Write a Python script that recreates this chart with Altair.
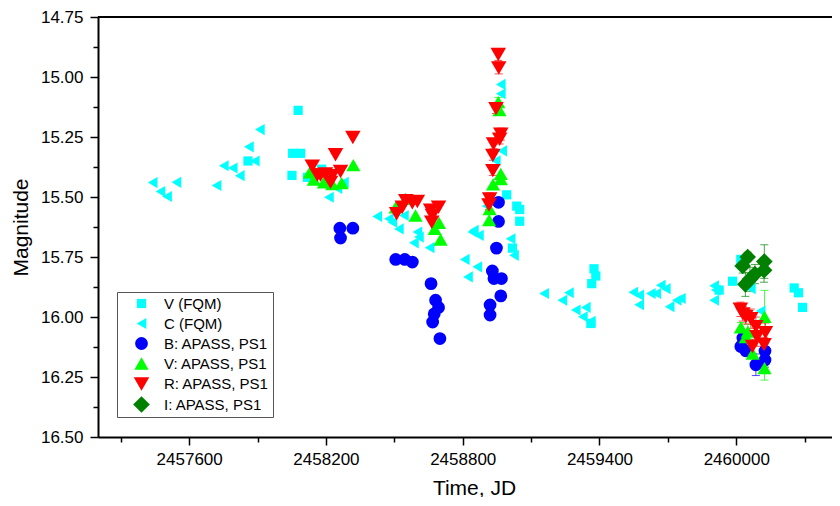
import altair as alt
import pandas as pd

series_names = ["V (FQM)", "C (FQM)", "B: APASS, PS1", "V: APASS, PS1", "R: APASS, PS1", "I: APASS, PS1"]
series_colors = ["#00ffff", "#00ffff", "#0000ff", "#00ff00", "#ff0000", "#008000"]
series_shapes = ["square", "triangle-left", "circle", "triangle-up", "triangle-down", "diamond"]
series_sizes = [85, 280, 95, 210, 210, 160]

# V (FQM)
vfqm_jd = [2457858, 2458078, 2458054, 2458089, 2458051, 2458119, 2458181, 2458993, 2459037, 2459050,
           2459050, 2459018, 2459376, 2459384, 2459366, 2459362, 2459925, 2459984, 2460020, 2460254,
           2460273, 2460291]
vfqm_mag = [15.35, 15.139, 15.318, 15.318, 15.41, 15.418, 15.384, 15.491, 15.538, 15.552,
            15.601, 15.713, 15.799, 15.829, 15.861, 16.027, 15.888, 15.851, 15.76, 15.879,
            15.899, 15.96]

# C (FQM)
cfqm_jd = [2457440, 2457474, 2457503, 2457544, 2457720, 2457752, 2457791, 2457822, 2457862, 2457888,
           2457910, 2458213, 2458279, 2458250, 2458305, 2458425, 2458476, 2458491, 2458520, 2458542,
           2458601, 2458608, 2458586, 2458655, 2458842, 2458849, 2458871, 2458809, 2458864, 2458823,
           2458967, 2458967, 2458973, 2458945, 2458905, 2459010, 2459025, 2459157, 2459266, 2459237,
           2459296, 2459340, 2459327, 2459362, 2459548, 2459574, 2459574, 2459625, 2459649, 2459669,
           2459691, 2459708, 2459739, 2459757, 2459903, 2459910, 2459903, 2460064, 2460107]
cfqm_mag = [15.44, 15.477, 15.498, 15.439, 15.452, 15.37, 15.379, 15.411, 15.291, 15.35,
            15.219, 15.501, 15.439, 15.464, 15.63, 15.581, 15.591, 15.605, 15.633, 15.577,
            15.646, 15.667, 15.691, 15.711, 15.646, 15.639, 15.66, 15.76, 15.791, 15.833,
            15.031, 15.07, 15.308, 15.349, 15.538, 15.674, 15.743, 15.902, 15.899, 15.93,
            15.971, 15.96, 15.999, 16.018, 15.897, 15.909, 15.949, 15.902, 15.902, 15.868,
            15.882, 15.957, 15.93, 15.923, 15.87, 15.888, 15.93, 15.882, 15.975]

# B: APASS, PS1
b_jd = [2458261, 2458264, 2458318, 2458506, 2458546, 2458579, 2458661, 2458681, 2458694, 2458675,
        2458668, 2458700, 2458957, 2458957, 2458948, 2458930, 2458937, 2458970, 2458967, 2458920,
        2458920, 2460029, 2460020, 2460042, 2460086, 2460126, 2460126]
b_mag = [15.63, 15.671, 15.63, 15.76, 15.76, 15.771, 15.861, 15.93, 15.96, 15.987,
         16.021, 16.09, 15.522, 15.602, 15.713, 15.808, 15.84, 15.84, 15.912, 15.95,
         15.992, 16.088, 16.123, 16.141, 16.199, 16.142, 16.179]
b_err = [0, 0, 0, 0, 0, 0, 0, 0, 0, 0,
         0, 0, 0, 0, 0, 0, 0, 0, 0, 0,
         0, 0.02, 0.02, 0.02, 0.045, 0.03, 0.03]

# V: APASS, PS1
v_jd = [2458320, 2458129, 2458147, 2458191, 2458269, 2458228, 2458550, 2458506, 2458593, 2458696,
        2458677, 2458703, 2458956, 2458961, 2458967, 2458967, 2458933, 2458918, 2458916, 2460020,
        2460051, 2460042, 2460072, 2460124, 2460124]
v_mag = [15.367, 15.397, 15.428, 15.439, 15.442, 15.446, 15.508, 15.543, 15.577, 15.608,
         15.633, 15.677, 15.105, 15.138, 15.404, 15.425, 15.447, 15.55, 15.596, 16.043,
         16.061, 16.084, 16.152, 15.999, 16.213]
v_err = [0, 0, 0, 0, 0, 0, 0, 0, 0, 0,
         0, 0, 0.02, 0.02, 0, 0, 0, 0, 0, 0.02,
         0.03, 0.03, 0.04, 0.11, 0.05]

# R: APASS, PS1
r_jd = [2458318, 2458242, 2458140, 2458162, 2458198, 2458228, 2458220, 2458264, 2458176, 2458510,
        2458535, 2458550, 2458579, 2458601, 2458659, 2458694, 2458664, 2458667, 2458956, 2458958,
        2458946, 2458967, 2458962, 2458935, 2458932, 2458932, 2458918, 2458915, 2460018, 2460029,
        2460042, 2460064, 2460086, 2460128, 2460071, 2460122, 2460091]
r_mag = [15.252, 15.324, 15.372, 15.408, 15.404, 15.411, 15.439, 15.394, 15.408, 15.57,
         15.543, 15.515, 15.524, 15.519, 15.555, 15.543, 15.605, 15.577, 14.906, 14.962,
         15.132, 15.238, 15.259, 15.279, 15.327, 15.39, 15.508, 15.533, 15.968, 15.987,
         15.999, 16.007, 16.04, 16.065, 16.123, 16.115, 16.082]
r_err = [0, 0, 0, 0, 0, 0, 0, 0, 0, 0,
         0, 0, 0, 0, 0, 0, 0, 0, 0.025, 0.025,
         0.02, 0.025, 0.02, 0.02, 0.02, 0.02, 0.025, 0.02, 0.03, 0.03,
         0.03, 0.04, 0.04, 0.04, 0.03, 0.03, 0.04]

# I: APASS, PS1
i_jd = [2460050, 2460028, 2460123, 2460122, 2460082, 2460060, 2460040]
i_mag = [15.75, 15.787, 15.769, 15.805, 15.821, 15.843, 15.864]
i_err = [0.02, 0.03, 0.07, 0.05, 0.04, 0.05, 0.05]

x_tick_values = [2457300, 2457600, 2457900, 2458200, 2458500, 2458800, 2459100, 2459400,
                 2459700, 2460000, 2460300]
y_tick_values = [14.75, 14.875, 15.0, 15.125, 15.25, 15.375, 15.5, 15.625, 15.75, 15.875,
                 16.0, 16.125, 16.25, 16.375, 16.5]

all_series = [
    (series_names[0], vfqm_jd, vfqm_mag, [0] * len(vfqm_jd)),
    (series_names[1], cfqm_jd, cfqm_mag, [0] * len(cfqm_jd)),
    (series_names[2], b_jd, b_mag, b_err),
    (series_names[3], v_jd, v_mag, v_err),
    (series_names[4], r_jd, r_mag, r_err),
    (series_names[5], i_jd, i_mag, i_err),
]
rows = []
for k, (name, jds, mags, errs) in enumerate(all_series):
    for j, m, e in zip(jds, mags, errs):
        rows.append({"series": name, "order": k, "jd": j, "mag": m, "err": e,
                     "lo": m - e, "hi": m + e})
df = pd.DataFrame(rows)

FONT = "Liberation Sans"
W, H = 734, 420

x_scale = alt.Scale(domain=[2457200, 2460420], nice=False, zero=False)
y_scale = alt.Scale(domain=[14.75, 16.5], reverse=True, nice=False, zero=False)
color_scale = alt.Scale(domain=series_names, range=series_colors)
shape_scale = alt.Scale(domain=series_names, range=series_shapes)
size_scale = alt.Scale(domain=series_names, range=series_sizes)

x_axis = alt.Axis(
    values=x_tick_values, format="d", title="Time, JD",
    labelExpr="datum.value % 600 == 0 ? datum.label : ''",
    tickSize={"condition": {"test": "datum.value % 600 == 0", "value": 8}, "value": 5},
    labelOverlap=False, titleX=376, titlePadding=10, labelPadding=6,
)
y_axis = alt.Axis(
    values=y_tick_values, format=".2f", title="Magnitude",
    labelExpr="abs(datum.value * 4 - round(datum.value * 4)) < 0.001 ? datum.label : ''",
    tickSize={"condition": {"test": "abs(datum.value * 4 - round(datum.value * 4)) < 0.001", "value": 8}, "value": 5},
    labelOverlap=False, titlePadding=9, labelPadding=7,
)

legend = alt.Legend(
    title=None, orient="none", legendX=19, legendY=275,
    strokeColor="#555555", fillColor="white", padding=4,
    labelFontSize=15, labelFont=FONT, labelColor="black", labelLimit=300,
    symbolSize=150, symbolStrokeWidth=0, symbolOpacity=1, rowPadding=4,
    symbolOffset=12, labelOffset=14,
)

base = alt.Chart(df)
x_enc = alt.X("jd:Q", scale=x_scale, axis=x_axis)
y_enc = alt.Y("mag:Q", scale=y_scale, axis=y_axis)
color_enc = alt.Color("series:N", scale=color_scale, legend=legend)

err_data = base.transform_filter("datum.err > 0")
err_rules = err_data.mark_rule(strokeWidth=1, opacity=0.7).encode(
    x=x_enc, y=alt.Y("lo:Q", scale=y_scale, axis=y_axis), y2="hi:Q", color=color_enc
)
err_lo = err_data.mark_tick(orient="horizontal", size=8, thickness=1, opacity=0.7).encode(
    x=x_enc, y=alt.Y("lo:Q", scale=y_scale, axis=y_axis), color=color_enc
)
err_hi = err_data.mark_tick(orient="horizontal", size=8, thickness=1, opacity=0.7).encode(
    x=x_enc, y=alt.Y("hi:Q", scale=y_scale, axis=y_axis), color=color_enc
)

points = base.mark_point(filled=True, opacity=1, fillOpacity=1, strokeWidth=0).encode(
    x=x_enc, y=y_enc, color=color_enc,
    shape=alt.Shape("series:N", scale=shape_scale, legend=legend),
    size=alt.Size("series:N", scale=size_scale, legend=None),
    order=alt.Order("order:Q"),
)

top_line = alt.Chart(pd.DataFrame({"a": [0]})).mark_rule(color="black", strokeWidth=2).encode(
    x=alt.value(0), x2=alt.value(W), y=alt.value(0)
)

chart = alt.layer(err_rules, err_lo, err_hi, points, top_line).properties(
    width=W, height=H,
    autosize=alt.AutoSizeParams(type="none"),
    padding={"left": 90, "top": 9, "right": 0, "bottom": 60},
).configure_view(stroke=None).configure_axis(
    grid=False, domainColor="black", domainWidth=2, tickColor="black", tickWidth=1.5,
    labelFont=FONT, labelFontSize=17, labelColor="black",
    titleFont=FONT, titleFontSize=21, titleFontWeight="normal", titleColor="black",
)

chart.save("out.html", embed_options={"renderer": "svg", "actions": False})
